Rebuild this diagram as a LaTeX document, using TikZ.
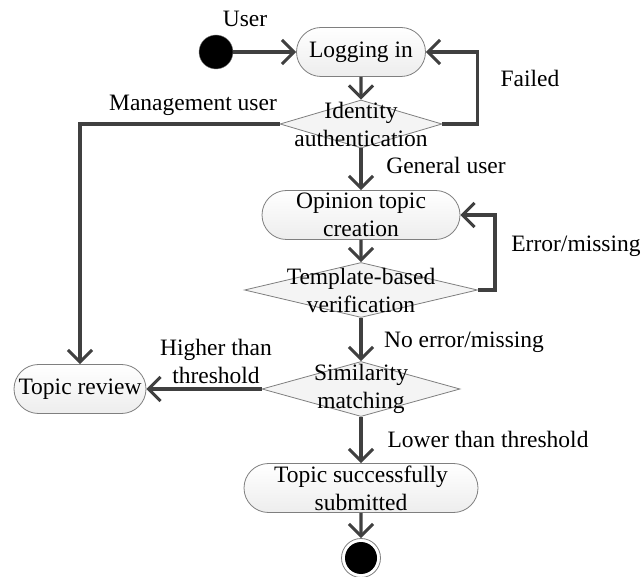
\documentclass[tikz,border=0pt]{standalone}
\usepackage{fontspec}
\setmainfont{Liberation Serif}
\usetikzlibrary{shapes.geometric,shapes.misc,arrows.meta}
\definecolor{linegray}{HTML}{404040}
\definecolor{boxgray}{HTML}{7F7F7F}
\definecolor{boxfill}{HTML}{EDEDED}

\begin{document}
\begin{tikzpicture}[x=1pt, y=-1pt,
    every node/.style={font=\fontsize{23.5}{28}\selectfont},
    activity/.style={rounded rectangle, draw=boxgray, line width=0.8pt,
        top color=white, bottom color=boxfill, minimum height=49pt,
        inner sep=2pt, align=center},
    decision/.style={diamond, draw=boxgray, line width=0.8pt,
        fill=boxfill!60, inner sep=0pt},
    flow/.style={draw=linegray, line width=3.2pt,
        -{Straight Barb[length=12pt,width=24pt,line width=3pt]}},
    tag/.style={inner sep=0pt, align=center}]
    \useasboundingbox (0,0) rectangle (643,577);

    % start & end
    \node[circle, fill=black, draw=boxgray, minimum size=34pt, inner sep=0pt] (start) at (216,52) {};
    \node[circle, fill=white, draw=boxgray, line width=0.8pt, minimum size=39pt, inner sep=0pt] (end) at (361,558) {};
    \fill[black] (end.center) circle (16pt);

    % activities
    \node[activity, minimum width=133pt] (login) at (361,52) {Logging in};
    \node[activity, minimum width=202pt] (create) at (361,215) {Opinion topic\\creation};
    \node[activity, minimum width=136pt] (review) at (80,389) {Topic review};
    \node[activity, minimum width=238pt] (submit) at (361,488) {Topic successfully\\submitted};

    % decisions
    \node[decision, minimum width=162pt, minimum height=48pt,
        label={[tag]center:Identity\\authentication}] (auth) at (361,124) {};
    \node[decision, minimum width=233pt, minimum height=55pt,
        label={[tag]center:Template-based\\verification}] (tmpl) at (361,290) {};
    \node[decision, minimum width=198pt, minimum height=55pt,
        label={[tag]center:Similarity\\matching}] (sim) at (361,389) {};

    % flows
    \draw[flow] (start) -- (login);
    \draw[flow] (login) -- (auth);
    \draw[flow] (auth.east) -- ++(35,0) |- (login.east);
    \draw[flow] (auth.west) -| (review.north);
    \draw[flow] (auth) -- (create);
    \draw[flow] (create) -- (tmpl);
    \draw[flow] (tmpl.east) -- ++(17,0) |- (create.east);
    \draw[flow] (tmpl) -- (sim);
    \draw[flow] (sim.west) -- (review.east);
    \draw[flow] (sim) -- (submit);
    \draw[flow] (submit) -- (end);

    % guards
    \node[tag] (user) at (245,19) {User};
    \node[tag] (failed) at (530,78) {Failed};
    \node[tag] (mgmt) at (193,105) {Management user};
    \node[tag] (general) at (446,165) {General user};
    \node[tag] (error) at (576,246) {Error/missing};
    \node[tag] (noerror) at (464,342) {No error/missing};
    \node[tag] (higher) at (216,361) {Higher than\\threshold};
    \node[tag] (lower) at (488,439) {Lower than threshold};
\end{tikzpicture}
\end{document}
